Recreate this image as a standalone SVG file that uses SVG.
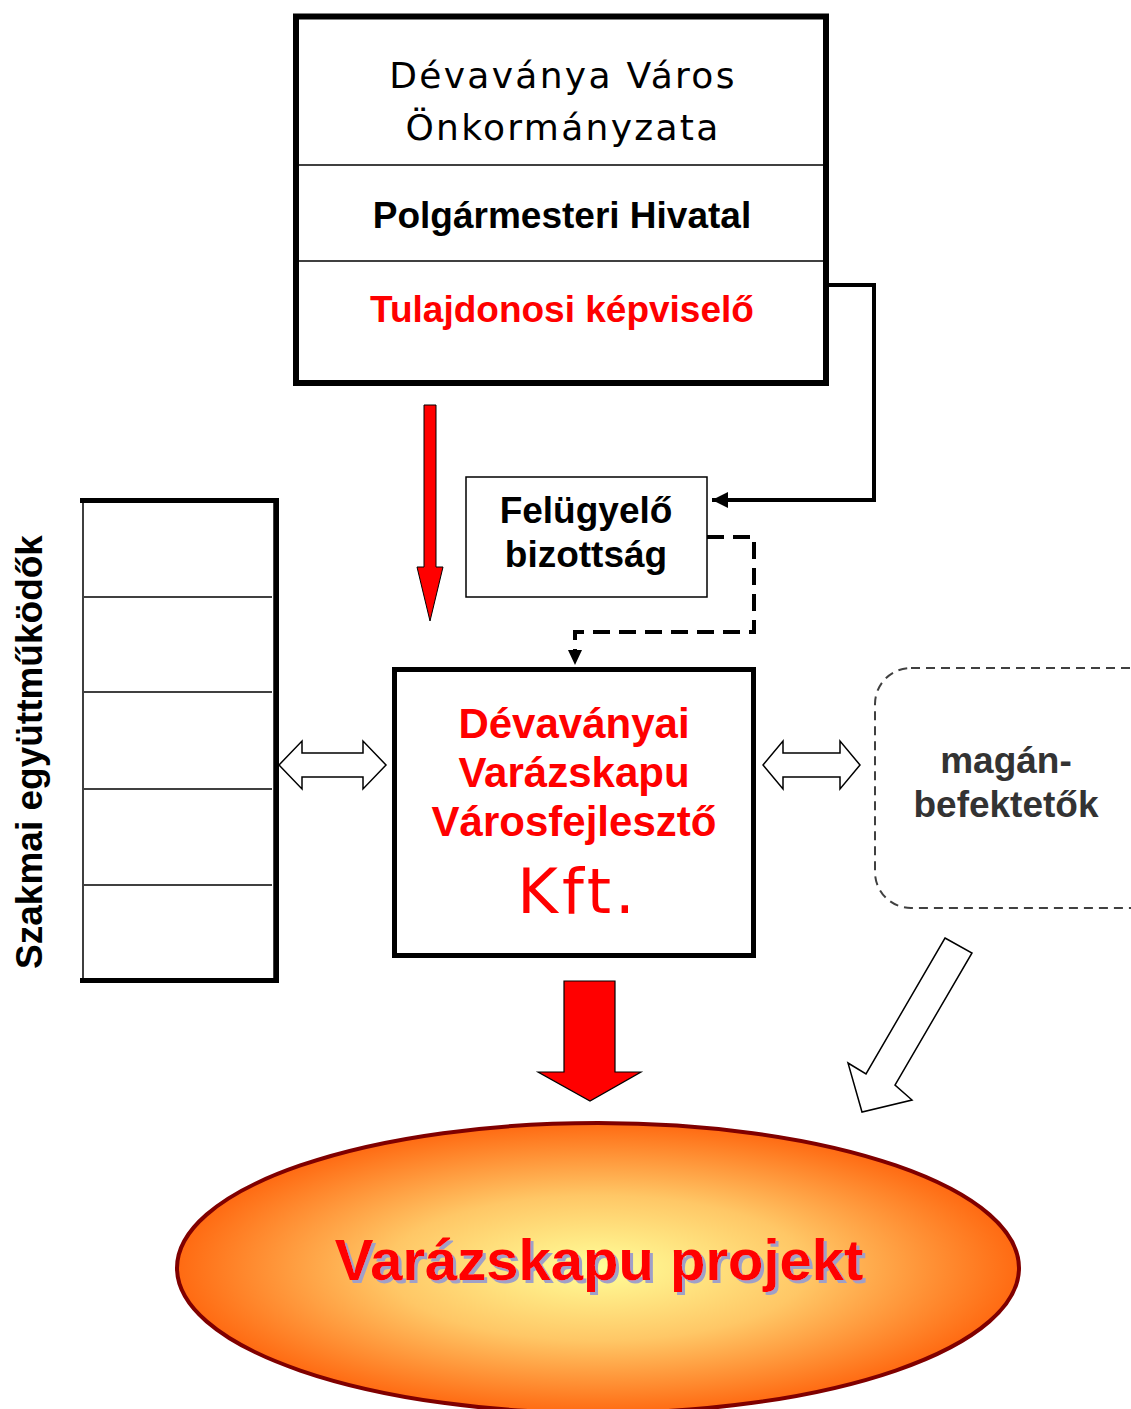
<svg xmlns="http://www.w3.org/2000/svg" width="1131" height="1409" viewBox="0 0 1131 1409">
<defs>
<radialGradient id="glow" cx="50%" cy="50%" r="50%">
<stop offset="0" stop-color="#FFFF99"/>
<stop offset="0.5" stop-color="#FFC766"/>
<stop offset="1" stop-color="#FF6A12"/>
</radialGradient>
<filter id="shadow" x="-5%" y="-20%" width="110%" height="140%">
<feOffset in="SourceAlpha" dx="3" dy="3" result="o"/>
<feFlood flood-color="#9FA0C8"/>
<feComposite in2="o" operator="in" result="s"/>
<feMerge><feMergeNode in="s"/><feMergeNode in="SourceGraphic"/></feMerge>
</filter>
<marker id="ah" viewBox="0 0 10 10" refX="10" refY="5" markerWidth="4" markerHeight="4" orient="auto" markerUnits="strokeWidth">
<path d="M0,0 L10,5 L0,10 Z" fill="#000"/>
</marker>
<style>
.b{font-family:"Liberation Sans",Arial,sans-serif;font-weight:bold;text-anchor:middle}
.d{font-family:"DejaVu Sans",Verdana,sans-serif;text-anchor:middle}
.red{fill:#FF0000}
.hollow{fill:#fff;stroke:#000;stroke-width:1.5;stroke-linejoin:miter}
</style>
</defs>
<rect width="1131" height="1409" fill="#fff"/>

<g id="onkormanyzat">
<rect x="296" y="16.5" width="530" height="366.5" fill="#fff" stroke="#000" stroke-width="6"/>
<line x1="299" y1="165" x2="826" y2="165" stroke="#000" stroke-width="1.5"/>
<line x1="299" y1="261" x2="826" y2="261" stroke="#000" stroke-width="1.5"/>
<text class="d" x="563" y="88" font-size="36" letter-spacing="2.3" fill="#000">Dévaványa Város</text>
<text class="d" x="563" y="140" font-size="36" letter-spacing="2.3" fill="#000">Önkormányzata</text>
<text class="b" x="562" y="228" font-size="37" fill="#000">Polgármesteri Hivatal</text>
<text class="b red" x="562" y="322" font-size="37">Tulajdonosi képviselő</text>
</g>

<g id="felugyelo">
<rect x="466" y="477" width="241" height="120" fill="#fff" stroke="#000" stroke-width="1.5"/>
<text class="b" x="586" y="523" font-size="37" fill="#000">Felügyelő</text>
<text class="b" x="586" y="567" font-size="37" fill="#000">bizottság</text>
</g>

<g id="kft">
<rect x="394.5" y="669.5" width="359" height="286" fill="#fff" stroke="#000" stroke-width="5"/>
<text class="b red" x="574" y="738" font-size="42">Dévaványai</text>
<text class="b red" x="574" y="787" font-size="42">Varázskapu</text>
<text class="b red" x="574" y="836" font-size="42">Városfejlesztő</text>
<text class="d red" x="578" y="913" font-size="62" letter-spacing="4">Kft.</text>
</g>

<g id="szakmai">
<rect x="83" y="500.5" width="191" height="480" fill="#fff" stroke="#000" stroke-width="1.5"/>
<path d="M80,500.5 H276.5 V980.5 H80" fill="none" stroke="#000" stroke-width="5"/>
<line x1="84" y1="597" x2="272" y2="597" stroke="#000" stroke-width="1.5"/>
<line x1="84" y1="692" x2="272" y2="692" stroke="#000" stroke-width="1.5"/>
<line x1="84" y1="789" x2="272" y2="789" stroke="#000" stroke-width="1.5"/>
<line x1="84" y1="885" x2="272" y2="885" stroke="#000" stroke-width="1.5"/>
<text class="b" transform="translate(42,752) rotate(-90)" x="0" y="0" font-size="37" fill="#000">Szakmai együttműködők</text>
</g>

<g id="maganbefektetok">
<rect x="875" y="668" width="300" height="240" rx="36" ry="36" fill="#fff" stroke="#404040" stroke-width="2" stroke-dasharray="9 6"/>
<text class="b" x="1006" y="773" font-size="37" fill="#333">magán-</text>
<text class="b" x="1006" y="817" font-size="37" fill="#333">befektetők</text>
</g>

<g id="projekt">
<ellipse cx="598" cy="1268" rx="421" ry="145" fill="url(#glow)" stroke="#800000" stroke-width="4"/>
<text class="b red" x="599" y="1280" font-size="58" filter="url(#shadow)">Varázskapu projekt</text>
</g>

<g id="connectors">
<polyline points="829,285 874,285 874,500 712,500" fill="none" stroke="#000" stroke-width="4" marker-end="url(#ah)"/>
<polyline points="707,537 754,537 754,632 575,632 575,654" fill="none" stroke="#000" stroke-width="4" stroke-dasharray="17 9"/>
<path d="M568,650 L582,650 L575,665 Z" fill="#000"/>
<polygon points="424,405 436,405 436,567 443,567 430,621 417,567 424,567" fill="#FF0000" stroke="#000" stroke-width="1"/>
<polygon points="279,765 302,741 302,753 363,753 363,741 386,765 363,789 363,777 302,777 302,789" class="hollow"/>
<polygon points="763,765 783,741 783,753 840,753 840,741 860,765 840,789 840,777 783,777 783,789" class="hollow"/>
<polygon points="945,938 972,953 895,1085 912,1100 862,1112 848,1063 866,1074" class="hollow"/>
<polygon points="564,981 615,981 615,1072 641,1072 590,1101 538,1072 564,1072" fill="#FF0000" stroke="#000" stroke-width="1.2"/>
</g>
</svg>
